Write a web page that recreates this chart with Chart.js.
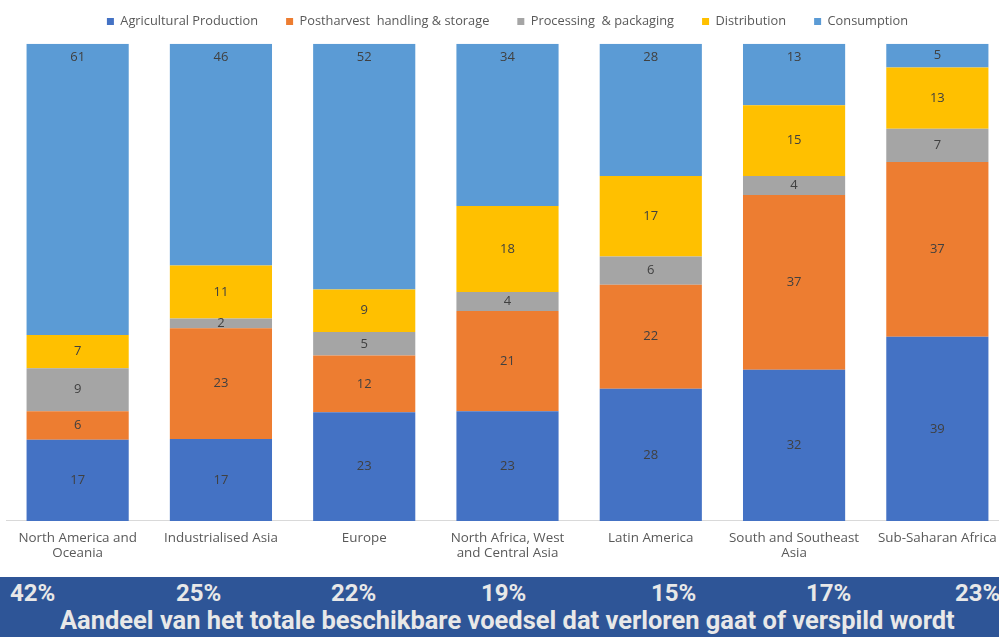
<!DOCTYPE html>
<html>
<head>
<meta charset="utf-8">
<script src="https://cdn.jsdelivr.net/npm/chart.js@4"></script>
<style>
  html, body { margin: 0; padding: 0; background: #fff; overflow: hidden; width: 999px; height: 637px; }
  #wrap { position: absolute; left: 0; top: 0; width: 1012px; height: 577px; }
  #banner { position: absolute; left: 0; top: 577px; width: 999px; height: 60px; background: #2E5597; overflow: hidden;
            font-family: Roboto, "Liberation Sans", sans-serif; font-weight: bold; color: #E8E8E8; }
  #banner .pct { position: absolute; top: 2px; font-size: 24px; line-height: 28px; white-space: nowrap; }
  #title { position: absolute; top: 29px; left: 0; font-size: 25px; line-height: 30px; white-space: nowrap; transform-origin: 0 0; }
</style>
</head>
<body>
<div id="wrap"><canvas id="lossChart" width="1012" height="577"></canvas></div>
<div id="banner"><div id="title">Aandeel van het totale beschikbare voedsel dat verloren gaat of verspild wordt</div></div>
<script>
// regions and the share of each stage (as printed in the bars)
const regions = [
    ['North America and', 'Oceania'],
    'Industrialised Asia',
    'Europe',
    ['North Africa, West', 'and Central Asia'],
    'Latin America',
    ['South and Southeast', 'Asia'],
    'Sub-Saharan Africa'
];
const agricultural = [17, 17, 23, 23, 28, 32, 39];
const postharvest = [6, 23, 12, 21, 22, 37, 37];
const processing = [9, 2, 5, 4, 6, 4, 7];
const distribution = [7, 11, 9, 18, 17, 15, 13];
const consumption = [61, 46, 52, 34, 28, 13, 5];

// share of total available food that is lost or wasted, per region
const lostShare = ['42%', '25%', '22%', '19%', '15%', '17%', '23%'];
const lostShareX = [10, 176, 331, 481, 651, 806, 955];

const labelFont = '"Open Sans", "Liberation Sans", Arial, sans-serif';

const seriesList = [
    { label: 'Agricultural Production', values: agricultural, color: '#4472C4' },
    { label: 'Postharvest  handling & storage', values: postharvest, color: '#ED7D31' },
    { label: 'Processing  & packaging', values: processing, color: '#A5A5A5' },
    { label: 'Distribution', values: distribution, color: '#FFC000' },
    { label: 'Consumption', values: consumption, color: '#5B9BD5' }
];

// 100% stacked: every bar is scaled to its own total
const totals = regions.map((r, i) => seriesList.reduce((s, d) => s + d.values[i], 0));

const datasets = seriesList.map((d, k) => ({
    label: d.label,
    raw: d.values,
    atTop: k === seriesList.length - 1,
    data: d.values.map((v, i) => v / totals[i] * 100),
    backgroundColor: d.color,
    borderWidth: 0,
    categoryPercentage: 1,
    barPercentage: 0.713
}));

// write the printed numbers inside each segment (top series sits near the top edge)
const valueLabels = {
    id: 'valueLabels',
    afterDatasetsDraw(chart) {
        const c = chart.ctx;
        c.save();
        c.font = '13px ' + labelFont;
        c.fillStyle = '#404040';
        c.textAlign = 'center';
        c.textBaseline = 'middle';
        chart.data.datasets.forEach((ds, di) => {
            chart.getDatasetMeta(di).data.forEach((bar, i) => {
                const mid = (bar.y + bar.base) / 2;
                const y = ds.atTop ? Math.min(mid, bar.y + 13) : mid;
                c.fillText(ds.raw[i], bar.x, y);
            });
        });
        c.restore();
    }
};

// legend keeps wide gaps between items but a short height
const legendHeight = {
    id: 'legendHeight',
    beforeInit(chart) {
        const fit = chart.legend.fit;
        chart.legend.fit = function () {
            fit.bind(chart.legend)();
            this.height += 6;
        };
    }
};

const ctx = document.getElementById('lossChart').getContext('2d');
const lossChart = new Chart(ctx, {
    type: 'bar',
    data: { labels: regions, datasets: datasets },
    plugins: [valueLabels, legendHeight],
    options: {
        responsive: false,
        animation: false,
        layout: { padding: { left: 6, right: 3, top: -13, bottom: 14 } },
        plugins: {
            tooltip: { enabled: false },
            legend: {
                position: 'top',
                labels: {
                    boxWidth: 7,
                    boxHeight: 7,
                    padding: 28,
                    color: '#595959',
                    font: { family: labelFont, size: 12.8 }
                }
            }
        },
        scales: {
            x: {
                stacked: true,
                grid: { display: false },
                border: { display: true, color: '#D9D9D9', width: 1 },
                ticks: {
                    color: '#595959',
                    maxRotation: 0,
                    autoSkip: false,
                    padding: 2,
                    font: { family: labelFont, size: 13.4, lineHeight: 1.12 }
                }
            },
            y: {
                stacked: true,
                display: false,
                min: 0,
                max: 100
            }
        }
    }
});

// bottom banner
const banner = document.getElementById('banner');
lostShare.forEach((t, i) => {
    const el = document.createElement('div');
    el.className = 'pct';
    el.style.left = lostShareX[i] + 'px';
    el.textContent = t;
    banner.appendChild(el);
});
const title = document.getElementById('title');
const w = title.scrollWidth;
title.style.left = '60px';
title.style.transform = 'scaleX(' + (895 / w) + ')';
</script>
</body>
</html>
